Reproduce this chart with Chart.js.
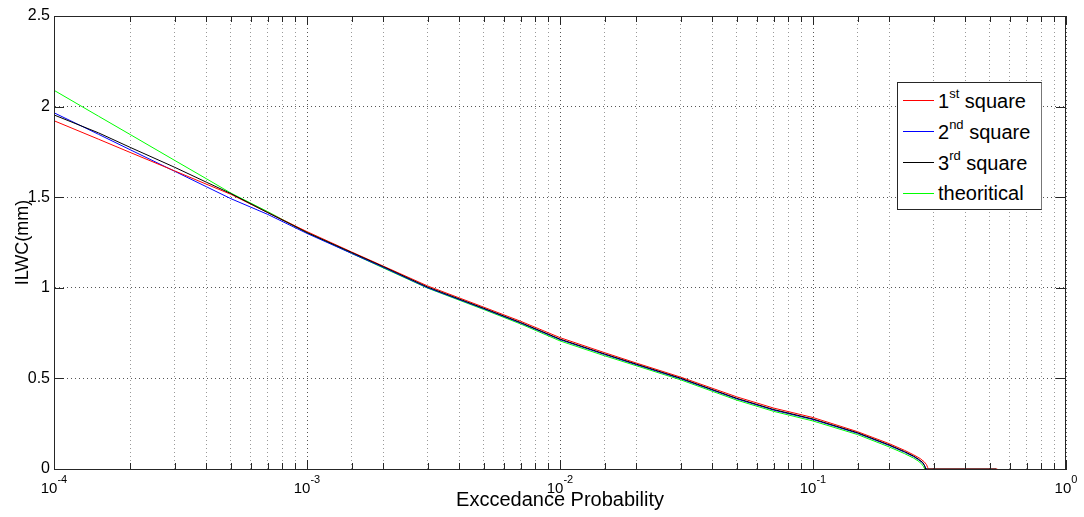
<!DOCTYPE html>
<html>
<head>
  <meta charset="UTF-8" />
  <title>ILWC exceedance</title>
  <script src="https://cdn.jsdelivr.net/npm/chart.js"></script>
  <style>
    body { margin: 0; background: #fff; }
    #wrap { position: relative; width: 1084px; height: 517px; }
    #legend {
      position: absolute; left: 897px; top: 82px; width: 143px; height: 124px;
      padding-top: 2px; background: #fff; border: 1px solid #262626; border-right-color: #777;
      font-family: 'Liberation Sans', Arial, sans-serif; font-size: 20px; color: #000;
    }
    #legend .row { height: 31px; display: flex; align-items: center; }
    #legend .swatch { width: 31px; height: 1px; margin: 0 4px 0 5px; }
    #legend sup { font-size: 13px; position: relative; top: -2px; }
  </style>
</head>
<body>
<div id="wrap">
  <canvas id="ilwcChart"></canvas>
  <div id="legend"></div>
</div>

<script>
  // exceedance probabilities shared by the body of every curve
  const prob = [1e-4, 1.5e-4, 2e-4, 3e-4, 4e-4, 5e-4, 7e-4, 1e-3, 1.5e-3, 2e-3, 3e-3, 5e-3, 7e-3,
                1e-2, 1.5e-2, 2e-2, 3e-2, 5e-2, 7e-2, 0.1, 0.15, 0.2, 0.23, 0.25];

  const square1 = [1.922, 1.820, 1.747, 1.645, 1.572, 1.516, 1.415, 1.310, 1.198, 1.120, 1.010, 0.893, 0.815,
                   0.725, 0.642, 0.585, 0.507, 0.398, 0.336, 0.284, 0.206, 0.140, 0.103, 0.078];
  const square2 = [1.966, 1.847, 1.762, 1.643, 1.558, 1.492, 1.405, 1.300, 1.190, 1.113, 1.000, 0.884, 0.805,
                   0.714, 0.632, 0.576, 0.498, 0.387, 0.325, 0.273, 0.197, 0.130, 0.093, 0.068];
  const square3 = [1.954, 1.855, 1.775, 1.665, 1.583, 1.520, 1.415, 1.305, 1.195, 1.117, 1.004, 0.887, 0.808,
                   0.717, 0.635, 0.579, 0.501, 0.390, 0.328, 0.276, 0.200, 0.133, 0.096, 0.071];
  const theory  = [2.090, 1.947, 1.846, 1.703, 1.602, 1.523, 1.420, 1.305, 1.190, 1.110, 0.998, 0.880, 0.800,
                   0.707, 0.625, 0.570, 0.492, 0.380, 0.318, 0.265, 0.190, 0.122, 0.085, 0.060];

  // steep drop to zero near p = 0.28 (and the flat zero run after it)
  const tail1P = [0.265, 0.275, 0.281, 0.284, 0.285, 0.535];
  const tail1V = [0.058, 0.040, 0.024, 0.008, 0, 0];
  const tail2P = [0.262, 0.272, 0.277, 0.279, 0.2795];
  const tail2V = [0.050, 0.032, 0.015, 0.004, 0];
  const tail3P = [0.262, 0.272, 0.276, 0.278, 0.2785, 0.53];
  const tail3V = [0.053, 0.035, 0.018, 0.005, 0, 0];
  const tailTP = [0.26, 0.268, 0.273, 0.2755, 0.276];
  const tailTV = [0.045, 0.030, 0.015, 0.004, 0];

  const xTickExp = [-4, -3, -2, -1, 0];
  const yTicks = [0, 0.5, 1, 1.5, 2, 2.5];

  const legendNames = [['1', 'st', ' square'], ['2', 'nd', ' square'], ['3', 'rd', ' square'], ['theoritical', '', '']];
  const lineColors = ['#ff0000', '#0000ff', '#000000', '#00ff00'];

  const FONT = "'Liberation Sans', Arial, sans-serif";

  function pts(ps, vs, tp, tv) {
    const out = ps.map((p, i) => ({ x: p, y: vs[i] }));
    tp.forEach((p, i) => out.push({ x: p, y: tv[i] }));
    return out;
  }

  const isDecade = v => Math.abs(Math.log10(v) - Math.round(Math.log10(v))) < 1e-9;

  // box, inward ticks and 10^n labels drawn on top of the plot
  const axesBox = {
    id: 'axesBox',
    afterDraw(chart) {
      const { ctx, chartArea: a, scales: { x, y } } = chart;
      const seg = (x1, y1, x2, y2) => { ctx.beginPath(); ctx.moveTo(x1, y1); ctx.lineTo(x2, y2); ctx.stroke(); };
      ctx.save();
      ctx.strokeStyle = '#262626';
      ctx.lineWidth = 1;
      x.ticks.forEach(t => {
        const px = Math.round(x.getPixelForValue(t.value)) + 0.5;
        const len = isDecade(t.value) ? 9 : 6;
        seg(px, a.bottom, px, a.bottom - len);
        seg(px, a.top, px, a.top + len);
      });
      yTicks.forEach(v => {
        const py = Math.round(y.getPixelForValue(v)) + 0.5;
        seg(a.left, py, a.left + 10, py);
        seg(a.right, py, a.right - 10, py);
      });
      ctx.strokeRect(Math.round(a.left) + 0.5, Math.round(a.top) + 0.5,
                     Math.round(a.right - a.left) - 1, Math.round(a.bottom - a.top));

      ctx.fillStyle = '#000';
      ctx.textBaseline = 'alphabetic';
      ctx.textAlign = 'left';
      xTickExp.forEach(e => {
        const px = x.getPixelForValue(Math.pow(10, e));
        ctx.font = '15px ' + FONT;
        const wBase = ctx.measureText('10').width;
        ctx.font = '11px ' + FONT;
        const wExp = ctx.measureText(String(e)).width;
        const x0 = px - (wBase + wExp) / 2;
        ctx.font = '15px ' + FONT;
        ctx.fillText('10', x0, a.bottom + 24);
        ctx.font = '11px ' + FONT;
        ctx.fillText(String(e), x0 + wBase, a.bottom + 14);
      });
      ctx.restore();
    }
  };

  const gridColor = ctx => (ctx.tick && isDecade(ctx.tick.value)) ? '#555' : '#999';

  new Chart(document.getElementById('ilwcChart'), {
    type: 'line',
    data: {
      datasets: [
        { label: '1st square', data: pts(prob, square1, tail1P, tail1V), borderColor: lineColors[0], order: 1 },
        { label: '2nd square', data: pts(prob, square2, tail2P, tail2V), borderColor: lineColors[1], order: 2 },
        { label: '3rd square', data: pts(prob, square3, tail3P, tail3V), borderColor: lineColors[2], order: 0 },
        { label: 'theoritical', data: pts(prob, theory, tailTP, tailTV), borderColor: lineColors[3], order: 3 }
      ].map(d => Object.assign(d, { borderWidth: 1, pointRadius: 0, tension: 0, fill: false, clip: 3 }))
    },
    options: {
      responsive: true,
      maintainAspectRatio: false,
      animation: false,
      events: [],
      layout: { padding: { top: 16, right: 18, left: 0, bottom: 0 } },
      plugins: { legend: { display: false }, tooltip: { enabled: false } },
      scales: {
        x: {
          type: 'logarithmic',
          min: 1e-4,
          max: 1,
          afterFit(s) { s.height = 48; },
          ticks: { display: false, autoSkip: false },
          grid: { color: gridColor, lineWidth: 1, drawTicks: false },
          border: { display: true, color: '#262626', dash: [1, 3] },
          title: {
            display: true, text: 'Exccedance Probability', color: '#000',
            font: { family: FONT, size: 20, lineHeight: 1.2 }, padding: { top: 0, bottom: 5 }
          }
        },
        y: {
          min: 0,
          max: 2.5,
          afterFit(s) { s.width = 54; },
          afterBuildTicks(s) { s.ticks = yTicks.map(v => ({ value: v })); },
          ticks: { color: '#000', padding: 4, font: { family: FONT, size: 16 }, callback: v => String(v) },
          grid: { color: '#555', lineWidth: 1, drawTicks: false },
          border: { display: true, color: '#262626', dash: [1, 3] },
          title: {
            display: true, text: 'ILWC(mm)', color: '#000',
            font: { family: FONT, size: 18, lineHeight: 1.2 }, padding: { top: 12, bottom: 0 }
          }
        }
      }
    },
    plugins: [axesBox]
  });

  // legend with superscript ordinals
  const legend = document.getElementById('legend');
  legendNames.forEach((n, i) => {
    const row = document.createElement('div');
    row.className = 'row';
    row.innerHTML = '<span class="swatch" style="background:' + lineColors[i] + '"></span>' +
      '<span>' + n[0] + (n[1] ? '<sup>' + n[1] + '</sup>' : '') + n[2] + '</span>';
    legend.appendChild(row);
  });
</script>
</body>
</html>
